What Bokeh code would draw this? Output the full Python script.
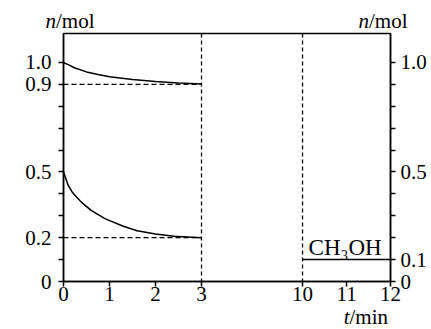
from bokeh.plotting import figure
from bokeh.layouts import column
from bokeh.models import FixedTicker, LinearAxis, Range1d, Label, Span
from bokeh.core.properties import value
from bokeh.embed import file_html
from bokeh.resources import INLINE

# ---- data ----
t_top = [0, 0.1, 0.25, 0.5, 0.75, 1.0, 1.5, 2.0, 2.5, 3.0]
n_top = [1.0, 0.99, 0.975, 0.957, 0.945, 0.935, 0.922, 0.913, 0.906, 0.902]
t_bot = [0, 0.05, 0.1, 0.2, 0.4, 0.6, 0.9, 1.3, 1.6, 2.0, 2.4, 3.0]
n_bot = [0.5, 0.47, 0.44, 0.405, 0.36, 0.325, 0.287, 0.252, 0.232, 0.217, 0.207, 0.2]
t_meoh = [10, 12]
n_meoh = [0.1, 0.1]
equil_levels = [0.9, 0.2]
t_equil_end = 3
t_marks = [3, 10]
x_tick_vals = [0, 1, 2, 3, 10, 11, 12]
y_left_major = [0, 0.2, 0.5, 0.9, 1.0]
y_right_major = [0, 0.1, 0.5, 1.0]
y_all_ticks = [0, 0.1, 0.2, 0.3, 0.4, 0.5, 0.6, 0.7, 0.8, 0.9, 1.0]
series_label = "CH\u2083OH"
y_title = ("n", "/mol")
x_title = ("t", "/min")

# broken time axis: 0..3 then 10..12
GAP = 2.196
S = 0.956


def xmap(t):
    return t if t <= 3 else 3 + GAP + (t - 10) * S


FONT = "Liberation Serif"
W = 431
TOP_H = 31
MAIN_H = 279
BOT_H = 29
BOT_OVERLAP = 10

# ---------------- main chart ----------------
p = figure(width=W, height=MAIN_H, output_backend="svg", toolbar_location=None,
           x_range=Range1d(0, xmap(12)), y_range=Range1d(0, 1.1324),
           min_border_left=63, min_border_right=41, min_border_top=2,
           min_border_bottom=29, frame_align=False)
p.grid.visible = False
p.outline_line_color = "black"
p.outline_line_width = 1.5
p.background_fill_color = "white"
p.border_fill_color = "white"

p.line([xmap(t) for t in t_top], n_top, line_color="black", line_width=1.5)
p.line([xmap(t) for t in t_bot], n_bot, line_color="black", line_width=1.5)
p.line([xmap(t) for t in t_meoh], n_meoh, line_color="black", line_width=1.5)

for lev in equil_levels:
    p.line([xmap(0), xmap(t_equil_end)], [lev, lev], line_color="black",
           line_width=1.3, line_dash="5 3")
for tm in t_marks:
    p.add_layout(Span(location=xmap(tm), dimension="height", line_color="black",
                      line_width=1.3, line_dash="4 3"))


def style_axis(ax, size="21px"):
    ax.axis_line_color = "black"
    ax.axis_line_width = 1.5
    ax.major_tick_line_color = "black"
    ax.major_tick_line_width = 1.5
    ax.minor_tick_line_color = "black"
    ax.minor_tick_line_width = 1.5
    ax.major_tick_in = 0
    ax.minor_tick_in = 0
    ax.major_tick_out = 5
    ax.minor_tick_out = 5
    ax.major_label_text_font = FONT
    ax.major_label_text_font_size = size
    ax.major_label_text_color = "black"


xa = p.xaxis[0]
style_axis(xa)
xa.ticker = FixedTicker(ticks=[xmap(t) for t in x_tick_vals])
xa.major_label_overrides = {xmap(t): str(t) for t in x_tick_vals}
xa.major_label_standoff = 0

ya = p.yaxis[0]
style_axis(ya)
ya.ticker = FixedTicker(ticks=y_left_major,
                        minor_ticks=[v for v in y_all_ticks if v not in y_left_major])
ya.major_label_overrides = {0: "0", 0.2: "0.2", 0.5: "0.5", 0.9: "0.9", 1.0: "1.0"}
ya.major_label_standoff = 7

yr = LinearAxis()
style_axis(yr)
yr.ticker = FixedTicker(ticks=y_right_major,
                        minor_ticks=[v for v in y_all_ticks if v not in y_right_major])
yr.major_label_overrides = {0: "0", 0.1: "0.1", 0.5: "0.5", 1.0: "1.0"}
yr.major_label_standoff = 5
p.add_layout(yr, "right")

# series label inside the frame
p.add_layout(Label(x=xmap(10), y=0.1, x_offset=6, y_offset=12, text=series_label,
                   text_align="left", text_baseline="alphabetic",
                   text_font=FONT, text_font_size="23px", text_color="black"))


# ---------------- title strips (pixel coordinates, y measured up from strip bottom) ----------------
def strip(h, margin=(0, 0, 0, 0)):
    f = figure(width=W, height=h, output_backend="svg", toolbar_location=None,
               title=None, frame_align=False, margin=margin,
               x_range=Range1d(0, W), y_range=Range1d(0, h),
               x_axis_location=None, y_axis_location=None,
               min_border=0, min_border_left=0, min_border_right=0,
               min_border_top=0, min_border_bottom=0)
    f.grid.visible = False
    f.outline_line_color = None
    f.background_fill_alpha = 0
    f.border_fill_alpha = 0
    return f


def two_part(f, parts, xb, yb, size="21px"):
    f.text(x=[xb], y=[yb], text=[parts[0]], text_align="right",
           text_baseline="alphabetic", text_font=value(FONT),
           text_font_size=size, text_font_style="italic", text_color="black")
    f.text(x=[xb], y=[yb], text=[parts[1]], text_align="left",
           text_baseline="alphabetic", text_font=value(FONT),
           text_font_size=size, text_color="black")


FIX = 6  # raise to compensate for baseline placement

top = strip(TOP_H)
two_part(top, y_title, 55.5, TOP_H - 26 + FIX)
two_part(top, y_title, 368.5, TOP_H - 26 + FIX)

bot = strip(BOT_H, margin=(-BOT_OVERLAP, 0, 0, 0))
two_part(bot, x_title, 349, 329 - 322 + FIX)

layout = column(top, p, bot, spacing=0)
open("out.html", "w").write(file_html(layout, INLINE))
